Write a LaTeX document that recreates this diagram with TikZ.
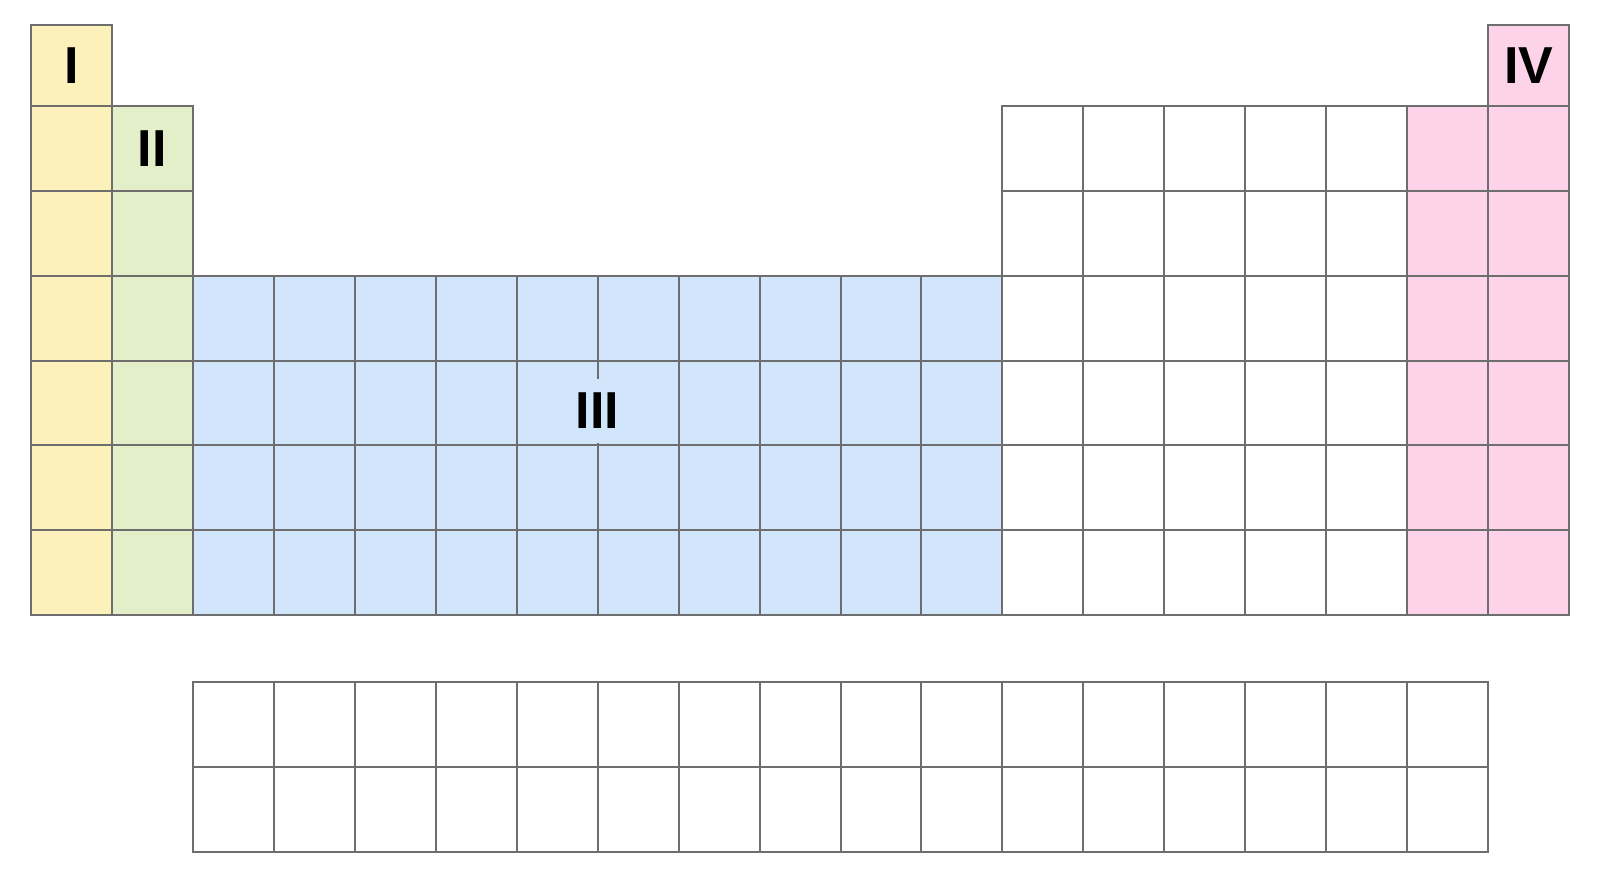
\documentclass[tikz,border=0pt]{standalone}
\usepackage{fontspec}
\setmainfont{Liberation Sans}
\definecolor{gridgray}{HTML}{6E6E6E}
\definecolor{yellowI}{HTML}{FDF1BB}
\definecolor{greenII}{HTML}{E2EFC9}
\definecolor{blueIII}{HTML}{D1E6FA}
\definecolor{pinkIV}{HTML}{FDD3EA}
\tikzset{
  cell/.style={draw=gridgray, line width=1pt},
  grouplabel/.style={font=\fontsize{26}{26}\selectfont\bfseries, inner sep=2pt}
}
\begin{document}
\begin{tikzpicture}[x=0.5pt,y=-0.5pt]
  \def \w {80.95} % cell width
  \def \h {84.83} % cell height
  \def \t {81}    % height of the top row

  \useasboundingbox (0,0) rectangle (1600,891);
  \fill[white] (0,0) rectangle (1600,891);

  \begin{scope}[shift={(31,106)}]
    % Top row
    \draw[cell, fill=yellowI] (0,-\t) rectangle (\w,0);
    \draw[cell, fill=pinkIV] (18*\w,-\t) rectangle (19*\w,0);

    % Main block
    \foreach \r in {0,...,5} {
      \draw[cell, fill=yellowI] (0,\r*\h) rectangle ++(\w,\h);
      \draw[cell, fill=greenII] (\w,\r*\h) rectangle ++(\w,\h);
      \foreach \c in {12,...,16}
        \draw[cell, fill=white] (\c*\w,\r*\h) rectangle ++(\w,\h);
      \foreach \c in {17,18}
        \draw[cell, fill=pinkIV] (\c*\w,\r*\h) rectangle ++(\w,\h);
    }
    \foreach \r in {2,...,5}
      \foreach \c in {2,...,11}
        \draw[cell, fill=blueIII] (\c*\w,\r*\h) rectangle ++(\w,\h);

    % Lower block
    \foreach \r in {0,1}
      \foreach \c in {2,...,17}
        \draw[cell, fill=white] (\c*\w,576+\r*\h) rectangle ++(\w,\h);

    % Labels
    \node[grouplabel] (labI) at (\w/2,-\t/2) {I};
    \node[grouplabel] (labII) at (1.5*\w,\h/2) {II};
    \node[grouplabel, fill=blueIII, minimum height=32pt] (labIII) at (7*\w,305) {III};
    \node[grouplabel] (labIV) at (18.5*\w,-\t/2) {IV};
  \end{scope}
\end{tikzpicture}
\end{document}
